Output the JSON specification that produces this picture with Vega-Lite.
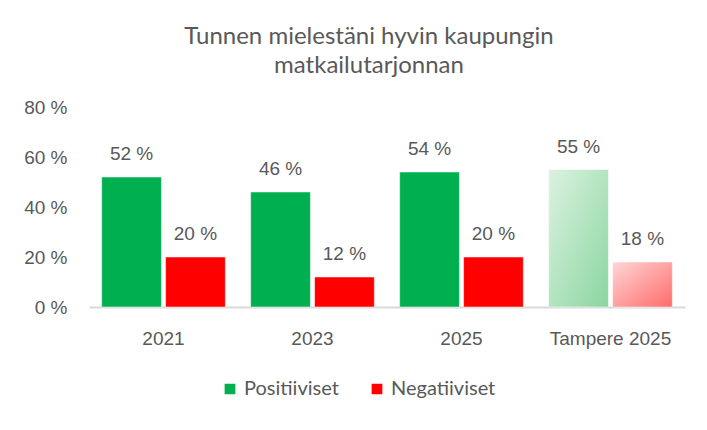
{
  "$schema": "https://vega.github.io/schema/vega-lite/v6.json",
  "width": 596,
  "height": 200,
  "autosize": "none",
  "padding": {"left": 89, "top": 107, "right": 22, "bottom": 123},
  "background": "white",
  "title": {
    "text": ["Tunnen mielestäni hyvin kaupungin", "matkailutarjonnan"],
    "font": "Lato",
    "fontSize": 24,
    "fontWeight": "normal",
    "color": "#595959",
    "lineHeight": 29,
    "anchor": "middle",
    "frame": "group",
    "dx": -18,
    "offset": 20
  },
  "config": {
    "view": {"stroke": null},
    "font": "Liberation Sans"
  },
  "data": {
    "values": [
      {"cat": "2021", "series": "Positiiviset", "value": 52},
      {"cat": "2021", "series": "Negatiiviset", "value": 20},
      {"cat": "2023", "series": "Positiiviset", "value": 46},
      {"cat": "2023", "series": "Negatiiviset", "value": 12},
      {"cat": "2025", "series": "Positiiviset", "value": 54},
      {"cat": "2025", "series": "Negatiiviset", "value": 20},
      {"cat": "Tampere 2025", "series": "Positiiviset", "value": 55},
      {"cat": "Tampere 2025", "series": "Negatiiviset", "value": 18}
    ]
  },
  "transform": [{"calculate": "datum.value + ' %'", "as": "label"}],
  "encoding": {
    "x": {
      "field": "cat",
      "type": "nominal",
      "sort": null,
      "scale": {"paddingInner": 0.17, "paddingOuter": 0.085},
      "axis": {
        "title": null,
        "labelAngle": 0,
        "labelFontSize": 19,
        "labelColor": "#595959",
        "labelPadding": 22,
        "ticks": false,
        "domainColor": "#d9d9d9",
        "domainWidth": 2
      }
    },
    "xOffset": {
      "field": "series",
      "type": "nominal",
      "sort": ["Positiiviset", "Negatiiviset"],
      "scale": {"paddingInner": 0.065, "paddingOuter": 0}
    },
    "y": {
      "field": "value",
      "type": "quantitative",
      "scale": {"domain": [0, 80]},
      "axis": {
        "title": null,
        "values": [0, 20, 40, 60, 80],
        "labelExpr": "datum.value + ' %'",
        "labelFontSize": 19,
        "labelColor": "#595959",
        "labelPadding": 22,
        "grid": false,
        "ticks": false,
        "domain": false
      }
    }
  },
  "layer": [
    {
      "mark": {"type": "bar", "stroke": "white", "strokeWidth": 0.5},
      "encoding": {
        "color": {
          "field": "series",
          "type": "nominal",
          "sort": ["Positiiviset", "Negatiiviset"],
          "scale": {"domain": ["Positiiviset", "Negatiiviset"], "range": ["#00b050", "#ff0000"]},
          "legend": {
            "title": null,
            "orient": "none",
            "direction": "horizontal",
            "legendX": 131,
            "legendY": 272,
            "symbolType": "square",
            "symbolSize": 150,
            "symbolOpacity": 1,
            "labelFontSize": 20,
            "labelFont": "Lato",
            "labelColor": "#595959",
            "columnPadding": 28
          },
          "condition": [
            {
              "test": "datum.cat === 'Tampere 2025' && datum.series === 'Positiiviset'",
              "value": {
                "gradient": "linear", "x1": 0, "y1": 0, "x2": 1, "y2": 1,
                "stops": [{"offset": 0, "color": "#dcf2e1"}, {"offset": 1, "color": "#8ad69f"}]
              }
            },
            {
              "test": "datum.cat === 'Tampere 2025' && datum.series === 'Negatiiviset'",
              "value": {
                "gradient": "linear", "x1": 0, "y1": 0, "x2": 1, "y2": 1,
                "stops": [{"offset": 0, "color": "#ffd6d6"}, {"offset": 1, "color": "#ff6b6b"}]
              }
            }
          ]
        }
      }
    },
    {
      "mark": {"type": "text", "baseline": "alphabetic", "dy": -17, "fontSize": 19, "color": "#595959"},
      "encoding": {"text": {"field": "label"}}
    }
  ]
}
